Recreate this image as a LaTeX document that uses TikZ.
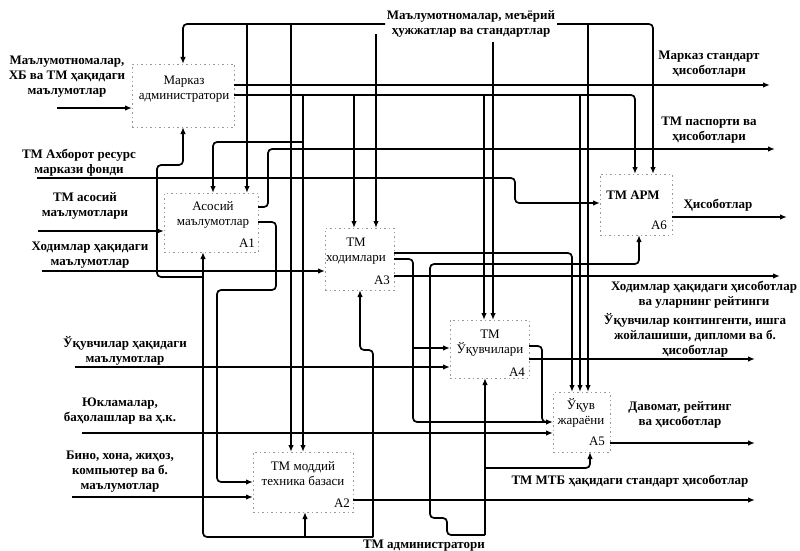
\documentclass[tikz,border=0pt]{standalone}
\usepackage{fontspec}
\setmainfont{Liberation Serif}
\usetikzlibrary{arrows.meta}
\begin{document}
\begin{tikzpicture}[x=1pt,y=-1pt,
  wire/.style={line width=1.7pt, rounded corners=4pt},
  arr/.style={wire, -{Latex[length=7pt,width=5.5pt]}},
  box/.style={draw=black!40, dash pattern=on 1.5pt off 3pt, line width=0.7pt, inner sep=0pt},
  lbl/.style={font=\fontsize{13}{15}\selectfont\bfseries, align=center, inner sep=0pt},
  btxt/.style={font=\fontsize{13}{15}\selectfont, align=center, inner sep=0pt}]
\fill[white] (0,0) rectangle (800,551);
\useasboundingbox (0,0) rectangle (800,551);

% ---------- boxes ----------
\node[box, minimum width=102pt, minimum height=63pt] (M)  at (183,95.5) {};
\node[box, minimum width=94pt,  minimum height=59pt] (A1) at (211,222.5) {};
\node[box, minimum width=69pt,  minimum height=62pt] (A3) at (359.5,259) {};
\node[box, minimum width=79pt,  minimum height=58pt] (A4) at (489.5,349) {};
\node[box, minimum width=57pt,  minimum height=60pt] (A5) at (581.5,422) {};
\node[box, minimum width=72pt,  minimum height=61pt] (A6) at (636,204.5) {};
\node[box, minimum width=100pt, minimum height=60pt] (A2) at (303,482) {};

% box texts
\node[btxt] (Mt)  at (184,89.5) {Марказ\\администратори};
\node[btxt] (A1t) at (213,214.5) {Асосий\\маълумотлар};
\node[btxt] (A1n) at (247,243) {A1};
\node[btxt] (A3t) at (356,251) {ТМ\\ходимлари};
\node[btxt] (A3n) at (382,280) {A3};
\node[btxt] (A4t) at (490,343) {ТМ\\Ўқувчилари};
\node[btxt] (A4n) at (517,372) {A4};
\node[btxt] (A5t) at (581,412.5) {Ўқув\\жараёни};
\node[btxt] (A5n) at (597,441) {A5};
\node[lbl]  (A6t) at (633,195) {ТМ АРМ};
\node[btxt] (A6n) at (659,225) {A6};
\node[btxt] (A2t) at (303,473.5) {ТМ моддий\\техника базаси};
\node[btxt] (A2n) at (342,503) {A2};

% ---------- ports ----------
\coordinate (Min) at (132,108);  \coordinate (Mctl) at (183,64);
\coordinate (Mmech) at (183,127); \coordinate (Mout1) at (234,85); \coordinate (Mout2) at (234,95);
\coordinate (A1in) at (164,231); \coordinate (A1c1) at (213,193); \coordinate (A1c2) at (247,193);
\coordinate (A1m) at (203,252);  \coordinate (A1o1) at (258,207); \coordinate (A1o2) at (258,222);
\coordinate (A3in) at (325,271); \coordinate (A3c1) at (354,228); \coordinate (A3c2) at (376,228);
\coordinate (A3m) at (360,290);  \coordinate (A3o1) at (394,253); \coordinate (A3o2) at (394,259);
\coordinate (A3o3) at (394,276);
\coordinate (A4i1) at (450,348); \coordinate (A4i2) at (450,367); \coordinate (A4c1) at (484,320);
\coordinate (A4c2) at (493,320); \coordinate (A4m) at (485,378); \coordinate (A4o1) at (529,346);
\coordinate (A4o2) at (529,359);
\coordinate (A5i1) at (553,422); \coordinate (A5i2) at (553,433); \coordinate (A5c1) at (572,392);
\coordinate (A5c2) at (580,392); \coordinate (A5c3) at (588,392); \coordinate (A5m) at (590,452);
\coordinate (A5o) at (610,443);
\coordinate (A6in) at (600,203); \coordinate (A6c1) at (635,174); \coordinate (A6c2) at (653,174);
\coordinate (A6m) at (639,235);  \coordinate (A6o) at (672,217);
\coordinate (A2i1) at (253,482); \coordinate (A2i2) at (253,497); \coordinate (A2c1) at (291,452);
\coordinate (A2c2) at (303,452); \coordinate (A2m) at (305,512); \coordinate (A2o) at (353,500);

% free ends
\coordinate (ctlL) at (385,24);  \coordinate (ctlR) at (557,24);
\coordinate (ctlA3) at (376,34); \coordinate (ctlA4) at (493,42);
\coordinate (in1) at (57,108);  \coordinate (in2) at (37,178);  \coordinate (in3) at (38,231);
\coordinate (in4) at (42,271);  \coordinate (in5) at (75,367);  \coordinate (in6) at (82,433);
\coordinate (in7) at (72,497);
\coordinate (oM) at (770,85);  \coordinate (oP) at (775,149); \coordinate (oH) at (787,217);
\coordinate (oK) at (780,276); \coordinate (oU) at (755,359); \coordinate (oD) at (755,443);
\coordinate (oT) at (755,500);
\coordinate (mL) at (373,537); \coordinate (mR) at (485,535);

% ---------- controls from top ----------
\draw[arr] (ctlL) -- (Mctl |- ctlL) -- (Mctl);
\draw[arr] (A1c2 |- ctlL) -- (A1c2);
\draw[arr] (A2c1 |- ctlL) -- (A2c1);
\draw[arr] (ctlA3) -- (A3c2);
\draw[arr] (ctlA4) -- (A4c2);
\draw[arr] (ctlR) -- (A6c2 |- ctlR) -- (A6c2);
\draw[arr] (A5c3 |- ctlR) -- (A5c3);

% ---------- Markaz outputs ----------
\draw[arr] (Mout1) -- (oM);
\draw[arr] (Mout2) -- (A6c1 |- Mout2) -- (A6c1);
\draw[arr] (A2c2 |- Mout2) -- (A2c2);
\draw[arr] (303,142) -- (213,142) -- (A1c1);
\draw[arr] (A3c1 |- Mout2) -- (A3c1);
\draw[arr] (A4c1 |- Mout2) -- (A4c1);
\draw[arr] (A5c2 |- Mout2) -- (A5c2);

% ---------- left inputs ----------
\draw[arr] (in1) -- (Min);
\draw[arr] (in2) -- (515,178) -- (515,203) -- (A6in);
\draw[arr] (157,178) -- (157,165) -- (183,165) -- (Mmech);
\draw[wire] (157,178) -- (157,277) -- (203,277);
\draw[arr] (in3) -- (A1in);
\draw[arr] (in4) -- (A3in);
\draw[arr] (in5) -- (A4i2);
\draw[arr] (in6) -- (A5i2);
\draw[arr] (in7) -- (A2i2);

% ---------- A1 outputs ----------
\draw[arr] (A1o1) -- (268,207) -- (268,149) -- (oP);
\draw[arr] (A1o2) -- (276,222) -- (276,290) -- (217,290) -- (217,482) -- (A2i1);

% ---------- A3 outputs ----------
\draw[arr] (A3o1) -- (A5c1 |- A3o1) -- (A5c1);
\draw[arr] (A3o2) -- (413,259) -- (413,422) -- (A5i1);
\draw[arr] (413,348) -- (A4i1);
\draw[arr] (A3o3) -- (oK);

% ---------- A4 outputs ----------
\draw[wire] (A4o1) -- (542,346) -- (542,422) -- (550,422);
\draw[arr] (A4o2) -- (oU);

% ---------- other outputs ----------
\draw[arr] (A5o) -- (oD);
\draw[arr] (A6o) -- (oH);
\draw[arr] (A2o) -- (oT);

% ---------- mechanisms ----------
\draw[arr] (mL) -- (A1m |- mL) -- (A1m);
\draw[arr] (A2m |- mL) -- (A2m);
\draw[arr] (mL) -- (373,350) -- (360,350) -- (A3m);
\draw[arr] (mR) -- (447,535) -- (447,518) -- (430,518) -- (430,264) -- (A6m |- 0,264) -- (A6m);
\draw[arr] (mR) -- (A4m);
\draw[arr] (485,468) -- (590,468) -- (A5m);

% ---------- labels ----------
\node[lbl] (Ltop) at (471,24) {Маълумотномалар, меъёрий\\ҳужжатлар ва стандартлар};
\node[lbl] (Lbot) at (424,546) {ТМ администратори};
\node[lbl] (L1) at (67,77) {Маълумотномалар,\\ХБ ва ТМ ҳақидаги\\маълумотлар};
\node[lbl] (L2) at (79,163) {ТМ Ахборот ресурс\\маркази фонди};
\node[lbl] (L3) at (85,206) {ТМ асосий\\маълумотлари};
\node[lbl] (L4) at (90,255) {Ходимлар ҳақидаги\\маълумотлар};
\node[lbl] (L5) at (125,350.5) {Ўқувчилар ҳақидаги\\маълумотлар};
\node[lbl] (L6) at (120,411) {Юкламалар,\\баҳолашлар ва ҳ.к.};
\node[lbl] (L7) at (120,472) {Бино, хона, жиҳоз,\\компьютер ва б.\\маълумотлар};
\node[lbl] (R1) at (709,64.5) {Марказ стандарт\\ҳисоботлари};
\node[lbl] (R2) at (709,130) {ТМ паспорти ва\\ҳисоботлари};
\node[lbl] (R3) at (718,205) {Ҳисоботлар};
\node[lbl] (R4) at (704,295) {Ходимлар ҳақидаги ҳисоботлар\\ва уларнинг рейтинги};
\node[lbl] (R5) at (695,335) {Ўқувчилар контингенти, ишга\\жойлашиши, дипломи ва б.\\ҳисоботлар};
\node[lbl] (R6) at (680,414.5) {Давомат, рейтинг\\ва ҳисоботлар};
\node[lbl] (R7) at (630,481) {ТМ МТБ ҳақидаги стандарт ҳисоботлар};
\end{tikzpicture}
\end{document}
